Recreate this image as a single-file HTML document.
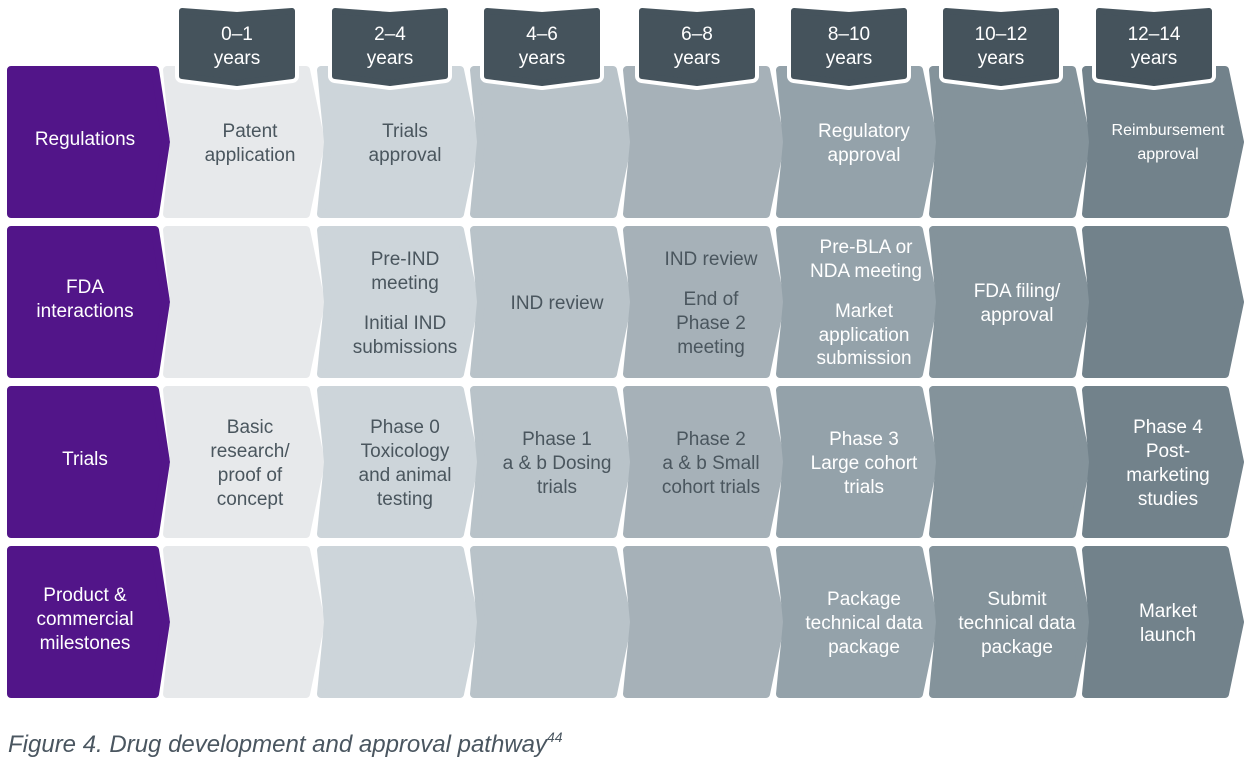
<!DOCTYPE html>
<html><head><meta charset="utf-8"><style>
body{margin:0;background:#fff;}
svg{display:block;font-family:"Liberation Sans",Arial,sans-serif;}
</style></head><body>
<svg width="1256" height="770" viewBox="0 0 1256 770" xmlns="http://www.w3.org/2000/svg">
<defs>
<path id="p" d="M4,4 H143 L158,76 L143,148 H4 L11,76 Z"/>
<path id="lab" d="M4,4 H148 L159,76 L148,148 H4 Z"/>
<path id="h" d="M-55,11 L0,15 L55,11 V76 L0,83 L-55,76 Z"/>
</defs>
<g stroke-linejoin="round" stroke-width="8">
<!-- labels -->
<g fill="#521589" stroke="#521589">
<use href="#lab" x="7" y="66"/><use href="#lab" x="7" y="226"/><use href="#lab" x="7" y="386"/><use href="#lab" x="7" y="546"/>
</g>
<g id="cols">
<g fill="#e7e9eb" stroke="#e7e9eb"><use href="#p" x="163" y="66"/><use href="#p" x="163" y="226"/><use href="#p" x="163" y="386"/><use href="#p" x="163" y="546"/></g>
<g fill="#cdd5da" stroke="#cdd5da"><use href="#p" x="317" y="66"/><use href="#p" x="317" y="226"/><use href="#p" x="317" y="386"/><use href="#p" x="317" y="546"/></g>
<g fill="#b9c3c9" stroke="#b9c3c9"><use href="#p" x="470" y="66"/><use href="#p" x="470" y="226"/><use href="#p" x="470" y="386"/><use href="#p" x="470" y="546"/></g>
<g fill="#a6b1b8" stroke="#a6b1b8"><use href="#p" x="623" y="66"/><use href="#p" x="623" y="226"/><use href="#p" x="623" y="386"/><use href="#p" x="623" y="546"/></g>
<g fill="#94a2aa" stroke="#94a2aa"><use href="#p" x="776" y="66"/><use href="#p" x="776" y="226"/><use href="#p" x="776" y="386"/><use href="#p" x="776" y="546"/></g>
<g fill="#84939b" stroke="#84939b"><use href="#p" x="929" y="66"/><use href="#p" x="929" y="226"/><use href="#p" x="929" y="386"/><use href="#p" x="929" y="546"/></g>
<g fill="#72828b" stroke="#72828b"><use href="#p" x="1082" y="66"/><use href="#p" x="1082" y="226"/><use href="#p" x="1082" y="386"/><use href="#p" x="1082" y="546"/></g>
</g>
<!-- headers -->
<g fill="#fff" stroke="#fff" stroke-width="14">
<use href="#h" x="237" y="0"/><use href="#h" x="390" y="0"/><use href="#h" x="542" y="0"/><use href="#h" x="697" y="0"/><use href="#h" x="849" y="0"/><use href="#h" x="1001" y="0"/><use href="#h" x="1154" y="0"/>
</g>
<g fill="#45535c" stroke="#45535c" stroke-width="6">
<use href="#h" x="237" y="0"/><use href="#h" x="390" y="0"/><use href="#h" x="542" y="0"/><use href="#h" x="697" y="0"/><use href="#h" x="849" y="0"/><use href="#h" x="1001" y="0"/><use href="#h" x="1154" y="0"/>
</g>
</g>
<g font-size="19" text-anchor="middle" fill="#fff">
<text x="237" y="40">0–1</text><text x="237" y="64">years</text>
<text x="390" y="40">2–4</text><text x="390" y="64">years</text>
<text x="542" y="40">4–6</text><text x="542" y="64">years</text>
<text x="697" y="40">6–8</text><text x="697" y="64">years</text>
<text x="849" y="40">8–10</text><text x="849" y="64">years</text>
<text x="1001" y="40">10–12</text><text x="1001" y="64">years</text>
<text x="1154" y="40">12–14</text><text x="1154" y="64">years</text>
<text x="85" y="145">Regulations</text>
<text x="85" y="293">FDA</text><text x="85" y="317">interactions</text>
<text x="85" y="465">Trials</text>
<text x="85" y="601">Product &amp;</text><text x="85" y="625">commercial</text><text x="85" y="649">milestones</text>
</g>
<g font-size="19" text-anchor="middle" fill="#4a565e">
<text x="250" y="137">Patent</text><text x="250" y="161">application</text>
<text x="405" y="137">Trials</text><text x="405" y="161">approval</text>
<text x="405" y="265">Pre-IND</text><text x="405" y="289">meeting</text>
<text x="405" y="329">Initial IND</text><text x="405" y="353">submissions</text>
<text x="557" y="309">IND review</text>
<text x="711" y="265">IND review</text>
<text x="711" y="305">End of</text><text x="711" y="329">Phase 2</text><text x="711" y="353">meeting</text>
<text x="250" y="433">Basic</text><text x="250" y="457">research/</text><text x="250" y="481">proof of</text><text x="250" y="505">concept</text>
<text x="405" y="433">Phase 0</text><text x="405" y="457">Toxicology</text><text x="405" y="481">and animal</text><text x="405" y="505">testing</text>
<text x="557" y="445">Phase 1</text><text x="557" y="469">a &amp; b Dosing</text><text x="557" y="493">trials</text>
<text x="711" y="445">Phase 2</text><text x="711" y="469">a &amp; b Small</text><text x="711" y="493">cohort trials</text>
</g>
<g font-size="19" text-anchor="middle" fill="#fff">
<text x="864" y="137">Regulatory</text><text x="864" y="161">approval</text>
<text x="1168" y="135" font-size="16">Reimbursement</text><text x="1168" y="159" font-size="16">approval</text>
<text x="866" y="253">Pre-BLA or</text><text x="866" y="277">NDA meeting</text>
<text x="864" y="317">Market</text><text x="864" y="341">application</text><text x="864" y="364">submission</text>
<text x="1017" y="297">FDA filing/</text><text x="1017" y="321">approval</text>
<text x="864" y="445">Phase 3</text><text x="864" y="469">Large cohort</text><text x="864" y="493">trials</text>
<text x="1168" y="433">Phase 4</text><text x="1168" y="457">Post-</text><text x="1168" y="481">marketing</text><text x="1168" y="505">studies</text>
<text x="864" y="605">Package</text><text x="864" y="629">technical data</text><text x="864" y="653">package</text>
<text x="1017" y="605">Submit</text><text x="1017" y="629">technical data</text><text x="1017" y="653">package</text>
<text x="1168" y="617">Market</text><text x="1168" y="641">launch</text>
</g>
<text x="8" y="752" font-size="24" font-style="italic" fill="#4a5660">Figure 4. Drug development and approval pathway<tspan font-size="14" dy="-10">44</tspan></text>
</svg>
</body></html>
